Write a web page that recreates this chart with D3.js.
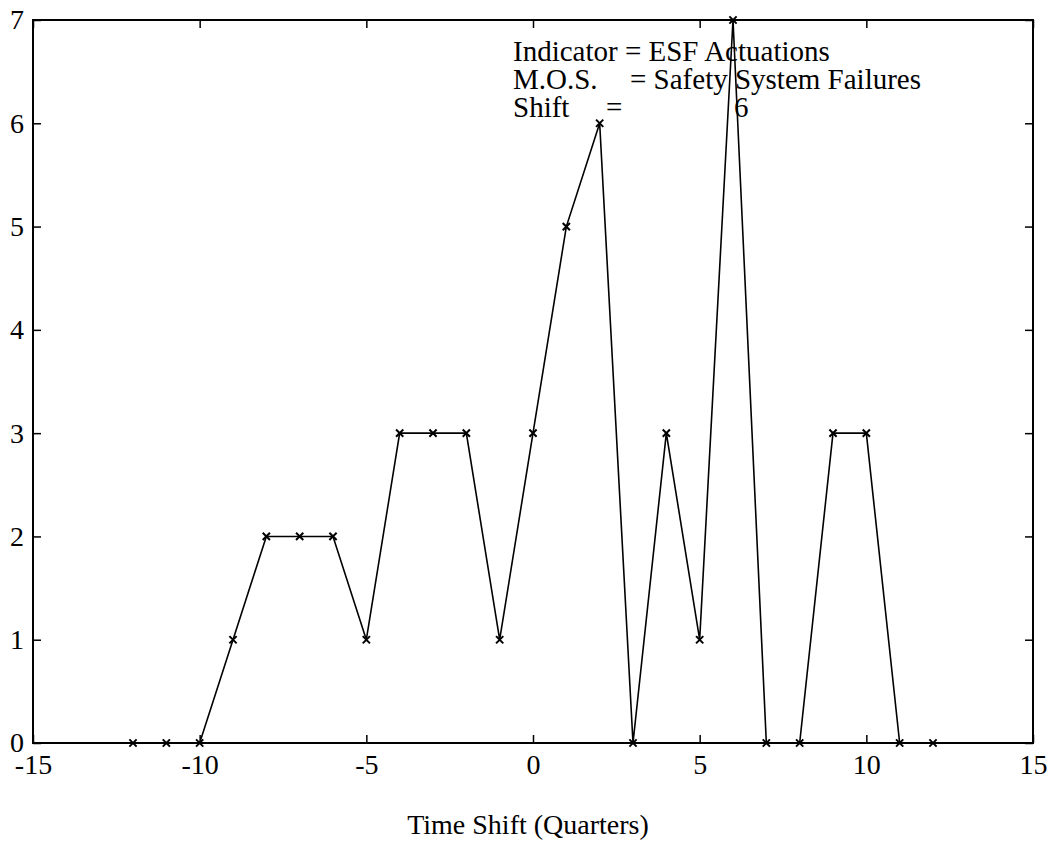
<!DOCTYPE html>
<html>
<head>
<meta charset="utf-8">
<script src="https://cdn.jsdelivr.net/npm/d3@7"></script>
<style>
  body { margin: 0; background: #fff; }
  text { font-family: "Liberation Serif", "Times New Roman", serif; fill: #000; }
</style>
</head>
<body>
<div class="container"></div>
<script>
const shifts = [-12, -11, -10, -9, -8, -7, -6, -5, -4, -3, -2, -1, 0, 1, 2, 3, 4, 5, 6, 7, 8, 9, 10, 11, 12];
const counts = [0, 0, 0, 1, 2, 2, 2, 1, 3, 3, 3, 1, 3, 5, 6, 0, 3, 1, 7, 0, 0, 3, 3, 0, 0];
const xTicks = [-15, -10, -5, 0, 5, 10, 15];
const yTicks = [0, 1, 2, 3, 4, 5, 6, 7];
const xLabel = 'Time Shift (Quarters)';
const infoLines = [
  ['Indicator = ESF Actuations'],
  ['M.O.S.', '= Safety System Failures'],
  ['Shift', '=', '6'],
];

const width = 1053;
const height = 843;
const leftEdge = 33;
const rightEdge = 1033;
const topEdge = 20;
const bottomEdge = 743;
const tick = 8;

const x = d3.scaleLinear().domain([-15, 15]).range([leftEdge, rightEdge]);
const y = d3.scaleLinear().domain([0, 7]).range([bottomEdge, topEdge]);

const svg = d3.select('.container')
  .append('svg')
  .attr('width', width)
  .attr('height', height);

const plain = (d) => String(d);

const styleAxis = (g) => {
  g.select('.domain').remove();
  g.selectAll('line').attr('stroke', '#000').attr('stroke-width', 1.5);
  g.selectAll('text').attr('font-family', '"Liberation Serif", serif').attr('font-size', 28).attr('fill', '#000');
};

svg.append('g')
  .attr('transform', `translate(0, ${bottomEdge})`)
  .call(d3.axisBottom(x).tickValues(xTicks).tickSize(-tick).tickSizeOuter(0).tickPadding(11).tickFormat(plain))
  .call(styleAxis);

svg.append('g')
  .attr('transform', `translate(0, ${topEdge})`)
  .call(d3.axisTop(x).tickValues(xTicks).tickSize(-tick).tickSizeOuter(0).tickFormat(''))
  .call(styleAxis);

svg.append('g')
  .attr('transform', `translate(${leftEdge}, 0)`)
  .call(d3.axisLeft(y).tickValues(yTicks).tickSize(-tick).tickSizeOuter(0).tickPadding(9).tickFormat(plain))
  .call(styleAxis);

svg.append('g')
  .attr('transform', `translate(${rightEdge}, 0)`)
  .call(d3.axisRight(y).tickValues(yTicks).tickSize(-tick).tickSizeOuter(0).tickFormat(''))
  .call(styleAxis);

// frame
svg.append('rect')
  .attr('x', leftEdge)
  .attr('y', topEdge)
  .attr('width', rightEdge - leftEdge)
  .attr('height', bottomEdge - topEdge)
  .attr('fill', 'none')
  .attr('stroke', '#000')
  .attr('stroke-width', 2);

const points = shifts.map((s, i) => [s, counts[i]]);

svg.append('path')
  .datum(points)
  .attr('fill', 'none')
  .attr('stroke', '#000')
  .attr('stroke-width', 1.6)
  .attr('d', d3.line().x((d) => x(d[0])).y((d) => y(d[1])));

svg.append('g')
  .selectAll('path')
  .data(points)
  .enter()
  .append('path')
  .attr('transform', (d) => `translate(${x(d[0])}, ${y(d[1])})`)
  .attr('d', d3.symbol(d3.symbolTimes, 36)())
  .attr('fill', 'none')
  .attr('stroke', '#000')
  .attr('stroke-width', 2);

// info text
const infoX = [[513], [513, 630], [513, 606, 734]];
infoLines.forEach((parts, row) => {
  parts.forEach((txt, j) => {
    svg.append('text')
      .attr('x', infoX[row][j])
      .attr('y', 61 + row * 28)
      .attr('font-size', 29)
      .text(txt);
  });
});

svg.append('text')
  .attr('x', 528)
  .attr('y', 834)
  .attr('text-anchor', 'middle')
  .attr('font-size', 28)
  .text(xLabel);
</script>
</body>
</html>
